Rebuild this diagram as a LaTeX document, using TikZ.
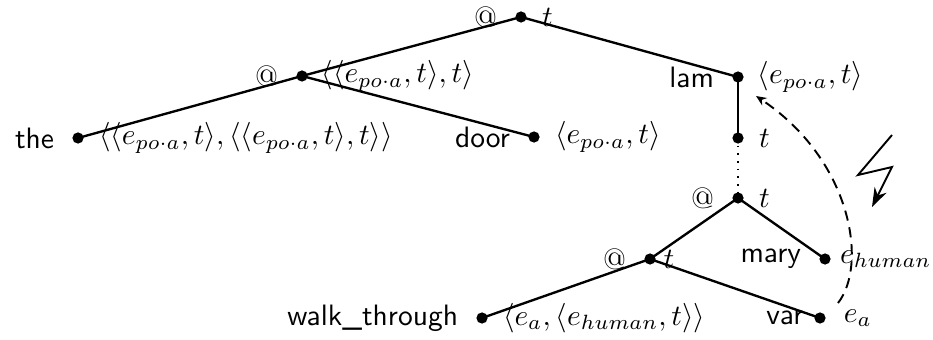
\documentclass[tikz,border=0pt]{standalone}
\usetikzlibrary{arrows.meta}
\begin{document}
\begin{tikzpicture}[x=0.339pt,y=-0.339pt,
  dot/.style={circle,fill=black,inner sep=0pt,minimum size=3.8pt},
  edge/.style={line width=0.8pt},
  every label/.style={inner sep=3.33pt},
]
\useasboundingbox (0,0) rectangle (933,340);
\def\epa{e_{po\cdot a}}
\node[dot,label={[label distance=1.5pt]right:$t$},label={[label distance=2.5pt]left:@}] (root) at (521,17) {};
\node[dot,label={[label distance=1pt]right:$\langle\langle\epa,t\rangle,t\rangle$},label={[label distance=2.5pt]left:@}] (app1) at (302,76) {};
\node[dot,label={[label distance=1.5pt]right:$\langle\langle\epa,t\rangle,\langle\langle\epa,t\rangle,t\rangle\rangle$},label={[label distance=2.5pt]left:\textsf{the}}] (the) at (78,138) {};
\node[dot,label={[label distance=1.5pt]right:$\langle\epa,t\rangle$},label={[label distance=2.5pt]left:\textsf{door}}] (door) at (534,137) {};
\node[dot,label={[label distance=1pt]right:$\langle\epa,t\rangle$},label={[label distance=2.5pt]left:\textsf{lam}}] (lam) at (738,77) {};
\node[dot,label={[label distance=1.5pt]right:$t$}] (tt) at (738,138) {};
\node[dot,label={[label distance=1.5pt]right:$t$},label={[label distance=2.5pt]left:@}] (app2) at (738,198) {};
\node[dot,label={[label distance=-1pt]right:$t$},label={[label distance=2.5pt]left:@}] (app3) at (650,259) {};
\node[dot,label={[label distance=-0.5pt]right:$e_{human}$},label={[label distance=2.5pt]left:\textsf{mary}}] (mary) at (825,259) {};
\node[dot,label={[label distance=1.5pt]right:$\langle e_a,\langle e_{human},t\rangle\rangle$},label={[label distance=2.5pt]left:\textsf{walk\_through}}] (walk) at (482,318) {};
\node[dot,label={[label distance=2.5pt]right:$e_a$},label={[label distance=0pt]left:\textsf{var}}] (var) at (820,318) {};
\draw[edge] (root.center) -- (app1.center);
\draw[edge] (root.center) -- (lam.center);
\draw[edge] (app1.center) -- (the.center);
\draw[edge] (app1.center) -- (door.center);
\draw[edge] (lam.center) -- (tt.center);
\draw[line width=0.6pt,dotted] (tt.center) -- (app2.center);
\draw[edge] (app2.center) -- (app3.center);
\draw[edge] (app2.center) -- (mary.center);
\draw[edge] (app3.center) -- (walk.center);
\draw[edge] (app3.center) -- (var.center);
\coordinate (dstart) at (838,303);
\coordinate (dend) at (756,96);
\draw[line width=0.65pt,dash pattern=on 3.5pt off 2.3pt,-{Stealth[length=3.5pt,width=3pt]}]
  (dstart) .. controls (868,265) and (852,160) .. (dend);
\coordinate (z1) at (892,135);
\coordinate (z2) at (858,175);
\coordinate (z3) at (892,167);
\coordinate (z4) at (872,207);
\draw[line width=0.65pt,-{Stealth[length=6.5pt,width=4.5pt]}] (z1) -- (z2) -- (z3) -- (z4);
\end{tikzpicture}
\end{document}
